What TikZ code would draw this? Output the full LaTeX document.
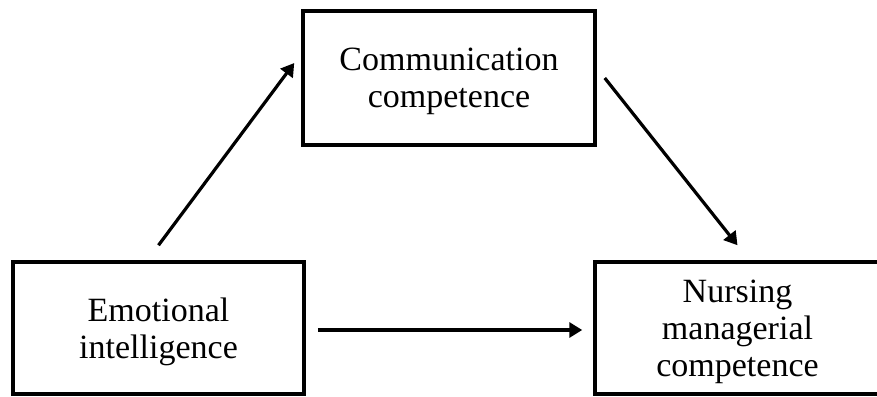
\documentclass[tikz,border=0pt]{standalone}
\usepackage{fontspec}
\setmainfont{Liberation Serif}
\usetikzlibrary{arrows.meta}

\tikzset{
  varbox/.style={draw, line width=3.5pt, inner sep=0pt, align=center,
                 text depth=-5pt, font=\fontsize{34}{37}\selectfont},
  patharrow/.style={line width=3.2pt, -{Triangle[length=13pt,width=15pt]}}
}

\begin{document}
\begin{tikzpicture}[x=1pt,y=-1pt]
  \useasboundingbox (0,0) rectangle (877,396);

  % Drawing box of the mediator
  \node [varbox, minimum width=292pt, minimum height=134pt] (comm) at (449,78)
        {Communication\\competence};%

  % Drawing box of the predictor
  \node [varbox, minimum width=291pt, minimum height=132pt] (emo) at (158.5,328)
        {Emotional\\intelligence};%

  % Drawing box of the outcome
  \node [varbox, minimum width=285pt, minimum height=132pt] (nurs) at (737.5,328)
        {Nursing\\managerial\\competence};%

  % Drawing path emo comm
  \draw [patharrow] ([yshift=15pt]emo.north) -- ([xshift=-7pt,yshift=15pt]comm.west);%

  % Drawing path comm nurs
  \draw [patharrow] ([xshift=8pt]comm.east) -- ([yshift=15pt]nurs.north);%

  % Drawing path emo nurs
  \draw [patharrow] ([xshift=12pt,yshift=-2pt]emo.east) -- ([xshift=-11pt,yshift=-2pt]nurs.west);%
\end{tikzpicture}
\end{document}
